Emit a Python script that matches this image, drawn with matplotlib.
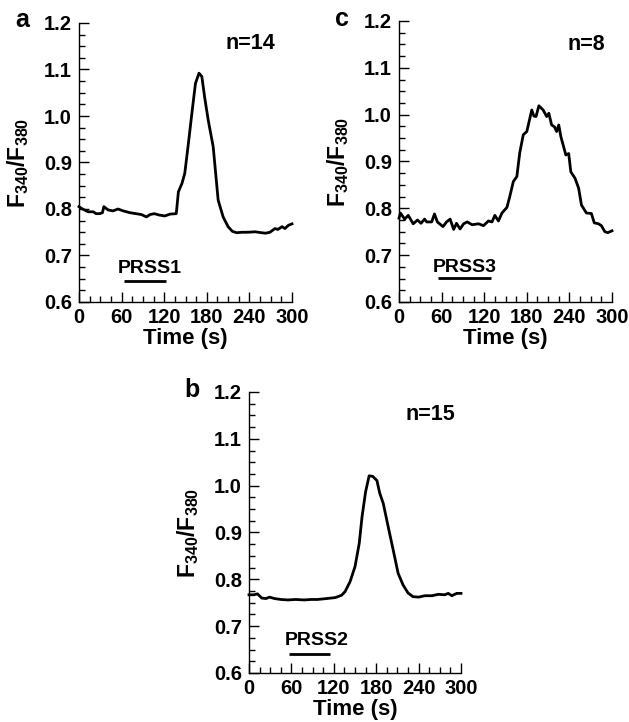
"""
Three-panel calcium response traces (F340/F380 ratio) for PRSS1, PRSS3 and PRSS2.
"""

import matplotlib
matplotlib.use('Agg')
import matplotlib.pyplot as plt
from matplotlib.ticker import MultipleLocator

plt.rcParams.update({
    'font.family': ['Liberation Sans', 'DejaVu Sans'],
    'font.weight': 'bold',
    'axes.labelweight': 'bold',
    'mathtext.default': 'regular',
    'axes.linewidth': 1.0,
    'axes.spines.top': False,
    'axes.spines.right': False,
})

# ---- panel a: PRSS1 ----
time_a = [0, 5, 13, 20, 24, 29, 33, 35, 41, 48, 55, 62, 72, 80, 88, 95, 100, 106,
          113, 121, 128, 137, 140, 145, 149, 154, 159, 164, 169, 173, 177, 182,
          189, 196, 203, 210, 216, 222, 230, 238, 248, 257, 263, 269, 276, 280,
          286, 290, 295, 300]
ratio_a = [0.805, 0.800, 0.794, 0.794, 0.790, 0.790, 0.792, 0.805, 0.798, 0.796,
           0.800, 0.796, 0.792, 0.790, 0.788, 0.783, 0.788, 0.790, 0.787, 0.785,
           0.789, 0.790, 0.837, 0.855, 0.877, 0.940, 1.006, 1.070, 1.092, 1.085,
           1.040, 0.991, 0.934, 0.819, 0.783, 0.762, 0.752, 0.749, 0.750, 0.750,
           0.751, 0.749, 0.748, 0.750, 0.758, 0.756, 0.762, 0.758, 0.765, 0.768]

# ---- panel c: PRSS3 ----
time_c = [0, 2, 8, 13, 20, 26, 31, 36, 39, 46, 50, 54, 62, 67, 72, 77, 81, 86, 91,
          96, 103, 112, 119, 126, 131, 135, 140, 145, 152, 156, 161, 166, 170, 175,
          180, 187, 190, 193, 197, 203, 208, 211, 215, 219, 222, 225, 228, 235, 239,
          242, 248, 253, 257, 264, 271, 275, 281, 285, 290, 294, 300]
ratio_c = [0.779, 0.790, 0.777, 0.785, 0.767, 0.775, 0.768, 0.777, 0.771, 0.771,
           0.788, 0.771, 0.761, 0.771, 0.777, 0.755, 0.768, 0.756, 0.767, 0.771,
           0.765, 0.767, 0.763, 0.773, 0.771, 0.785, 0.773, 0.790, 0.802, 0.825,
           0.857, 0.868, 0.918, 0.957, 0.964, 1.010, 0.997, 0.996, 1.019, 1.010,
           0.996, 1.003, 0.978, 0.974, 0.964, 0.978, 0.953, 0.914, 0.917, 0.878,
           0.864, 0.843, 0.807, 0.790, 0.789, 0.769, 0.767, 0.763, 0.750, 0.748,
           0.752]

# ---- panel b: PRSS2 ----
time_b = [0, 7, 12, 18, 24, 29, 36, 45, 55, 66, 78, 88, 97, 110, 122, 131, 136,
          143, 150, 156, 160, 165, 170, 175, 181, 185, 190, 197, 204, 211, 218,
          225, 232, 240, 249, 259, 268, 277, 282, 287, 294, 300]
ratio_b = [0.767, 0.767, 0.769, 0.760, 0.759, 0.762, 0.759, 0.757, 0.756, 0.757,
           0.756, 0.757, 0.757, 0.759, 0.761, 0.766, 0.774, 0.795, 0.827, 0.877,
           0.934, 0.987, 1.021, 1.020, 1.011, 0.984, 0.962, 0.912, 0.863, 0.813,
           0.788, 0.771, 0.763, 0.762, 0.765, 0.765, 0.768, 0.767, 0.770, 0.765,
           0.770, 0.770]

panels = [
    # letter, time, ratio, n label, agent, bar start/end, axes box in pixels
    ('a', time_a, ratio_a, 'n=14', 'PRSS1', (63, 122), [79, 23, 292, 302]),
    ('c', time_c, ratio_c, 'n=8', 'PRSS3', (55, 129), [399, 21, 612, 302]),
    ('b', time_b, ratio_b, 'n=15', 'PRSS2', (57, 115), [249, 392, 461, 673]),
]
n_pos = {'a': (241, 1.144), 'c': (264, 1.138), 'b': (256, 1.140)}
agent_pos = {'a': (99, 0.663, 0.646), 'c': (92, 0.665, 0.651), 'b': (96, 0.660, 0.641)}
letter_pos = {'a': (22, 27), 'c': (342, 26), 'b': (192, 397)}

W, H = 629, 722
fig = plt.figure(figsize=(W / 100, H / 100), dpi=100)

for letter, t, r, nlab, agent, bar, (x0, y0, x1, y1) in panels:
    ax = fig.add_axes([x0 / W, 1 - y1 / H, (x1 - x0) / W, (y1 - y0) / H])
    ax.plot(t, r, color='black', linewidth=2.0, clip_on=False)

    ax.set_xlim(0, 300)
    ax.set_ylim(0.6, 1.2)
    ax.xaxis.set_major_locator(MultipleLocator(60))
    ax.xaxis.set_minor_locator(MultipleLocator(15))
    ax.yaxis.set_major_locator(MultipleLocator(0.1))
    ax.yaxis.set_minor_locator(MultipleLocator(0.025))
    ax.yaxis.set_major_formatter(plt.FormatStrFormatter('%.1f'))
    ax.tick_params(which='both', direction='in', width=1.0, labelsize=14.5)
    ax.tick_params(which='major', length=7)
    ax.tick_params(which='minor', length=4)
    ax.tick_params(axis='x', pad=4)
    ax.tick_params(axis='y', pad=5)

    ax.set_xlabel('Time (s)', fontsize=16, labelpad=1)
    ax.set_ylabel('F$_{340}$/F$_{380}$', fontsize=16.5)
    ax.yaxis.set_label_coords(-0.225, 0.5)

    nx, ny = n_pos[letter]
    ax.text(nx, ny, nlab, ha='center', va='baseline', fontsize=15.5, fontweight='bold')
    ax_, ay, by = agent_pos[letter]
    ax.text(ax_, ay, agent, ha='center', va='baseline', fontsize=14, fontweight='bold')
    ax.plot(bar, [by, by], color='black', linewidth=2.0, solid_capstyle='butt')

    lx, ly = letter_pos[letter]
    fig.text(lx / W, 1 - ly / H, letter, ha='center', va='baseline',
             fontsize=18, fontweight='bold')

fig.savefig('out.png', dpi=100)
